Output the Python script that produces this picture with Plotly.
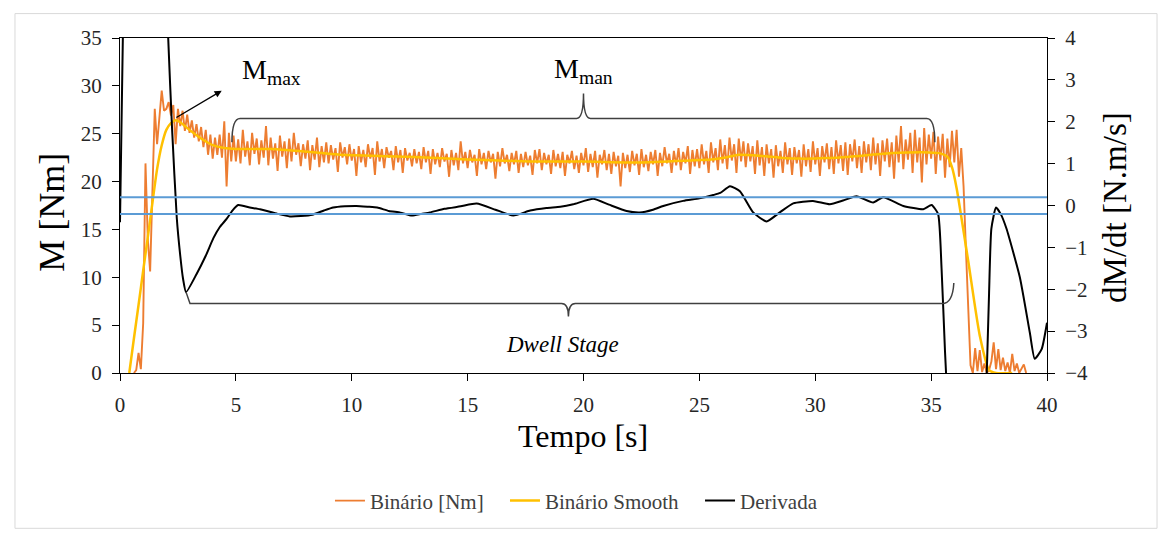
import plotly.graph_objects as go

# ---------------- data ----------------
# sampling instants of the raw torque signal (s)
t_grid = [round(0.1 * i, 1) for i in range(401)]

N = None
binario_rows = [
    [N, N, N, N, N, N, 0.0, 0.3, 2.1, 0.4],                       # 0.x
    [5.2, 21.9, 14.0, 10.6, 19.1, 27.6, 23.9, 27.0, 29.5, 27.4],  # 1.x
    [27.6, 28.3, 26.9, 28.0, 23.9, 27.6, 25.8, 27.4, 25.3, 27.0],
    [25.1, 26.4, 24.6, 26.0, 24.2, 25.7, 23.6, 25.4, 22.8, 24.9],
    [22.4, 24.6, 22.8, 24.9, 22.5, 26.3, 19.5, 25.1, 22.1, 24.8],
    [22.1, 24.4, 21.9, 25.4, 22.6, 24.2, 21.7, 25.1, 22.9, 24.5],
    [21.8, 24.3, 22.5, 25.8, 21.7, 24.6, 22.4, 24.0, 21.1, 24.8],
    [22.6, 24.2, 21.4, 24.5, 22.1, 25.1, 22.8, 24.0, 21.6, 23.9],
    [22.4, 24.3, 21.2, 23.8, 22.3, 24.6, 21.5, 23.7, 22.0, 24.1],
    [21.9, 23.8, 22.3, 23.5, 21.0, 24.1, 22.5, 23.6, 21.8, 23.9],
    [22.2, 23.4, 20.6, 23.7, 22.0, 23.3, 21.5, 23.9, 22.4, 23.5],
    [20.7, 24.2, 22.1, 23.4, 21.4, 23.6, 22.5, 23.2, 21.2, 23.7],
    [22.0, 23.3, 20.9, 23.5, 22.2, 23.0, 21.6, 23.4, 21.9, 23.1],
    [21.3, 23.6, 22.0, 23.2, 20.8, 23.4, 21.8, 23.0, 21.5, 23.5],
    [22.1, 22.9, 20.5, 23.3, 21.7, 23.0, 21.2, 24.2, 21.9, 23.1],
    [21.4, 23.3, 22.0, 22.8, 20.6, 23.4, 21.8, 23.0, 21.3, 23.2],
    [22.0, 22.9, 20.3, 23.1, 21.6, 23.5, 21.9, 22.8, 21.1, 23.0],
    [21.8, 23.2, 20.9, 22.9, 21.5, 23.1, 21.7, 22.7, 20.7, 23.3],
    [21.9, 23.4, 21.2, 23.0, 21.8, 22.8, 20.8, 23.3, 21.6, 22.9],
    [21.4, 23.1, 20.6, 22.8, 21.9, 23.2, 21.3, 22.7, 20.9, 23.0],
    [21.7, 23.5, 21.0, 22.9, 21.5, 23.2, 20.4, 22.8, 21.8, 23.3],
    [21.2, 22.9, 20.8, 23.1, 21.6, 22.7, 19.5, 23.0, 21.4, 22.8],
    [21.0, 23.2, 21.7, 22.9, 20.7, 23.4, 21.5, 22.8, 21.1, 23.1],
    [21.8, 23.3, 20.6, 23.0, 21.6, 23.6, 21.9, 22.9, 20.9, 23.2],
    [21.7, 23.5, 21.2, 23.1, 21.9, 23.7, 20.8, 23.3, 21.6, 23.4],
    [21.4, 23.9, 21.8, 23.2, 20.9, 24.1, 22.0, 23.5, 21.2, 24.4],
    [21.9, 23.8, 21.3, 24.6, 22.2, 23.9, 20.9, 24.5, 22.1, 24.2],
    [21.5, 24.0, 22.1, 23.7, 20.8, 24.3, 21.7, 23.6, 20.6, 23.9],
    [21.9, 23.4, 20.4, 23.8, 21.6, 23.2, 20.9, 24.1, 21.8, 23.5],
    [20.7, 23.6, 21.9, 23.3, 20.5, 23.9, 21.6, 23.4, 21.0, 24.2],
    [21.8, 23.5, 20.6, 23.7, 22.0, 24.0, 21.3, 23.6, 20.8, 24.3],
    [21.9, 23.8, 21.1, 24.1, 20.7, 23.9, 22.1, 24.4, 21.4, 23.7],
    [20.9, 24.2, 22.0, 23.9, 21.2, 24.6, 21.8, 24.0, 20.6, 24.3],
    [22.1, 24.5, 21.5, 24.1, 20.3, 24.8, 22.0, 25.8, 21.3, 24.4],
    [22.3, 25.1, 20.9, 25.4, 22.0, 24.6, 19.9, 25.6, 21.8, 24.9],
    [22.4, 25.2, 20.8, 24.7, 22.2, 25.0, 20.4, 24.5, 21.5, 25.3],
    [22.0, 25.4, 20.5, 23.5, 19.5, 13.0, 6.0, 0.8, 0.0, 2.6],
    [0.2, 2.4, 0.1, 1.0, 0.0, 0.3, 1.2, 3.2, 0.4, 2.5],
    [0.3, 1.6, 0.2, 1.1, 0.0, 2.0, 0.2, 1.0, 0.0, 0.4],
    [0.9, 0.0, N, N, N, N, N, N, N, N],
    [N],
]
binario = [v for row in binario_rows for v in row]

smooth_t = [0.4, 0.6, 0.8, 1.0, 1.2, 1.4, 1.6, 1.8, 2.0, 2.2, 2.4, 2.6, 2.8,
            3.0, 3.5, 4.0, 4.5, 5.0, 6.5, 8.6, 9.5, 12.4, 15.0, 17.7, 20.0,
            22.4, 24.6, 25.5, 26.2, 26.7, 27.6, 28.5, 29.3, 30.5, 31.5, 33.2,
            34.9, 35.4, 35.7, 35.9, 36.1, 36.6, 37.1, 37.5, 37.8, 38.5]
smooth_v = [0.0, 3.6, 7.1, 10.7, 14.2, 17.8, 21.3, 23.8, 25.4, 26.1, 26.4,
            26.2, 25.8, 25.4, 24.5, 23.8, 23.5, 23.4, 23.4, 23.0, 22.8, 22.6,
            22.3, 22.1, 22.1, 22.0, 22.2, 22.3, 22.55, 22.8, 22.7, 22.5, 22.4,
            22.45, 22.6, 22.95, 23.05, 22.95, 22.6, 21.5, 19.3, 11.7, 3.9, 0.3,
            0.0, 0.0]

deriv_t = [0.0, 0.14, 0.3, 1.0, 1.6, 1.95, 2.08, 2.25, 2.45, 2.6, 2.72, 2.85,
           3.3, 3.7, 4.03, 4.3, 4.6, 4.85, 5.1, 5.6, 6.04, 6.8, 7.33, 7.8, 8.3,
           8.8, 9.2, 9.7, 10.2, 10.7, 11.1, 11.6, 12.1, 12.6, 13.0, 13.37,
           14.0, 14.7, 15.39, 16.2, 16.97, 17.7, 18.4, 19.0, 19.56, 20.42,
           21.1, 21.86, 22.43, 23.0, 23.44, 24.3, 25.0, 25.6, 25.9, 26.32,
           26.75, 27.32, 27.9, 28.47, 29.05, 29.9, 30.63, 31.2, 31.78, 32.5,
           32.93, 33.8, 34.66, 35.02, 35.3, 35.45, 35.6, 35.7, 36.2, 36.8,
           37.3, 37.4, 37.5, 37.6, 37.8, 38.0, 38.25, 38.83, 39.26, 39.47,
           39.77, 40.0]
deriv_v = [-0.4, 4.6, 9.0, 16.0, 14.0, 6.5, 4.0, 1.8, -0.3, -1.2, -1.75,
           -2.07, -1.64, -1.2, -0.78, -0.52, -0.32, -0.12, 0.01, -0.05, -0.09,
           -0.2, -0.26, -0.25, -0.22, -0.12, -0.05, -0.02, -0.01, -0.03, -0.05,
           -0.13, -0.17, -0.24, -0.2, -0.165, -0.08, -0.02, 0.045, -0.1, -0.24,
           -0.12, -0.06, -0.03, 0.03, 0.16, 0.02, -0.13, -0.165, -0.1, -0.01,
           0.11, 0.17, 0.25, 0.3, 0.46, 0.34, -0.165, -0.38, -0.165, 0.05,
           0.11, 0.03, 0.12, 0.22, 0.07, 0.2, -0.01, -0.09, 0.01, -0.2, -1.5,
           -3.5, -4.6, -9.0, -9.0, -5.5, -4.0, -2.1, -0.55, -0.05, -0.2, -0.55,
           -1.72, -3.04, -3.66, -3.43, -2.8]

limit_lines = [0.2, -0.2]        # dM/dt tolerance band (right axis)

x_ticks = [0, 5, 10, 15, 20, 25, 30, 35, 40]
left_ticks = [0, 5, 10, 15, 20, 25, 30, 35]
right_ticks = [-4, -3, -2, -1, 0, 1, 2, 3, 4]

x_title = "Tempo [s]"
y_title = "M [Nm]"
y2_title = "dM/dt [N.m/s]"

# annotation anchors (data units, left axis)
mmax_tail = (2.37, 26.6)
mmax_head = (4.39, 29.5)
mman_brace = dict(x0=4.83, x1=35.16, mid=20.0, yend=24.1, ybar=26.6, ytip=29.2)
dwell_brace = dict(x0=2.85, x1=35.98, mid=19.35, yleft=8.45, yright=9.4,
                   ybar=7.25, ytip=5.9)

FONT = "Liberation Serif, Times New Roman, Times, serif"
TXT = "#262626"

fig = go.Figure()
fig.add_trace(go.Scatter(x=t_grid, y=binario, mode="lines", name="Binário [Nm]",
                         line=dict(color="#ED7D31", width=1.9), connectgaps=False,
                         legend="legend"))
fig.add_trace(go.Scatter(x=smooth_t, y=smooth_v, mode="lines", name="Binário Smooth",
                         line=dict(color="#FFC000", width=2.5, shape="spline", smoothing=0.6),
                         legend="legend2"))
fig.add_trace(go.Scatter(x=deriv_t, y=deriv_v, mode="lines", name="Derivada", yaxis="y2",
                         line=dict(color="#000000", width=2, shape="spline", smoothing=0.5),
                         legend="legend3"))

shapes = []
for v in limit_lines:
    shapes.append(dict(type="line", xref="paper", x0=0, x1=1, yref="y2", y0=v, y1=v,
                       line=dict(color="#5B9BD5", width=2), layer="above"))

b = mman_brace
mman_path = (f"M {b['x0']},{b['yend']} Q {b['x0']},{b['ybar']} {b['x0']+0.35},{b['ybar']} "
             f"L {b['mid']-0.3},{b['ybar']} Q {b['mid']},{b['ybar']} {b['mid']},{b['ytip']} "
             f"Q {b['mid']},{b['ybar']} {b['mid']+0.3},{b['ybar']} "
             f"L {b['x1']-0.35},{b['ybar']} Q {b['x1']},{b['ybar']} {b['x1']},{b['yend']}")
shapes.append(dict(type="path", xref="x", yref="y", path=mman_path,
                   line=dict(color="#404040", width=1.5), layer="above"))

d = dwell_brace
dwell_path = (f"M {d['x0']},{d['yleft']} L {d['x0']+0.17},{d['ybar']} "
              f"L {d['mid']-0.3},{d['ybar']} Q {d['mid']},{d['ybar']} {d['mid']},{d['ytip']} "
              f"Q {d['mid']},{d['ybar']} {d['mid']+0.3},{d['ybar']} "
              f"L {d['x1']-0.5},{d['ybar']} Q {d['x1']-0.05},{d['ybar']} {d['x1']},{d['yright']}")
shapes.append(dict(type="path", xref="x", yref="y", path=dwell_path,
                   line=dict(color="#404040", width=1.5), layer="above"))

# white text box of the "Dwell Stage" label (hides part of the axis line)
shapes.append(dict(type="rect", xref="x", yref="y", x0=15.95, x1=24.95, y0=-0.15, y1=4.5,
                   fillcolor="white", line=dict(width=0), layer="above"))

# outer chart frame
shapes.append(dict(type="rect", xref="paper", yref="paper", x0=-0.1133, x1=1.1187,
                   y0=-0.4636, y1=1.0729, line=dict(color="#D9D9D9", width=1),
                   fillcolor="rgba(0,0,0,0)", layer="below"))

annotations = [
    dict(x=mmax_head[0], y=mmax_head[1], ax=mmax_tail[0], ay=mmax_tail[1],
         xref="x", yref="y", axref="x", ayref="y", text="", showarrow=True,
         arrowhead=2, arrowsize=1.1, arrowwidth=1.3, arrowcolor="#000000"),
    dict(x=5.18, y=31.5, xref="x", yref="y", xanchor="left", yanchor="middle",
         text="M<sub>max</sub>", showarrow=False, font=dict(family=FONT, size=28, color="#000000")),
    dict(x=20.0, y=31.6, xref="x", yref="y", xanchor="center", yanchor="middle",
         text="M<sub>man</sub>", showarrow=False, font=dict(family=FONT, size=28, color="#000000")),
    dict(x=19.1, y=3.0, xref="x", yref="y", xanchor="center", yanchor="middle",
         text="<i>Dwell Stage</i>", showarrow=False, font=dict(family=FONT, size=23, color="#000000")),
    # axis titles
    dict(x=0.4995, y=-0.1895, xref="paper", yref="paper", xanchor="center", yanchor="middle",
         text=x_title, showarrow=False, font=dict(family=FONT, size=32, color="#000000")),
    dict(x=-0.0734, y=0.481, xref="paper", yref="paper", xanchor="center", yanchor="middle",
         text=y_title, textangle=-90, showarrow=False,
         font=dict(family=FONT, size=36, color="#000000")),
    dict(x=1.0733, y=0.4956, xref="paper", yref="paper", xanchor="center", yanchor="middle",
         text=y2_title, textangle=-90, showarrow=False,
         font=dict(family=FONT, size=33, color="#000000")),
]

axis_common = dict(showline=True, linecolor="#000000", linewidth=1, ticks="outside",
                   ticklen=7, tickcolor="#000000", tickwidth=1, showgrid=False, zeroline=False,
                   tickfont=dict(family=FONT, size=21, color=TXT))

legend_common = dict(orientation="h", xanchor="left", y=-0.382, yanchor="middle",
                     font=dict(family=FONT, size=21, color="#404040"), itemwidth=30,
                     bgcolor="rgba(0,0,0,0)", borderwidth=0)

fig.update_layout(
    width=1167, height=534,
    margin=dict(l=120, r=120, t=38, b=153),
    paper_bgcolor="white", plot_bgcolor="white",
    font=dict(family=FONT, color=TXT),
    showlegend=True,
    legend=dict(x=0.2265, **legend_common),
    legend2=dict(x=0.4153, **legend_common),
    legend3=dict(x=0.6257, **legend_common),
    xaxis=dict(range=[0, 40], tickvals=x_ticks, mirror=True, ticklabelstandoff=6,
               **axis_common),
    yaxis=dict(range=[0, 35], tickvals=left_ticks, ticklabelstandoff=6, **axis_common),
    yaxis2=dict(range=[-4, 4], tickvals=right_ticks, overlaying="y", side="right",
                ticklabelstandoff=6, **axis_common),
    shapes=shapes,
    annotations=annotations,
    hovermode=False,
)

fig.write_html("out.html", config={"displayModeBar": False})
